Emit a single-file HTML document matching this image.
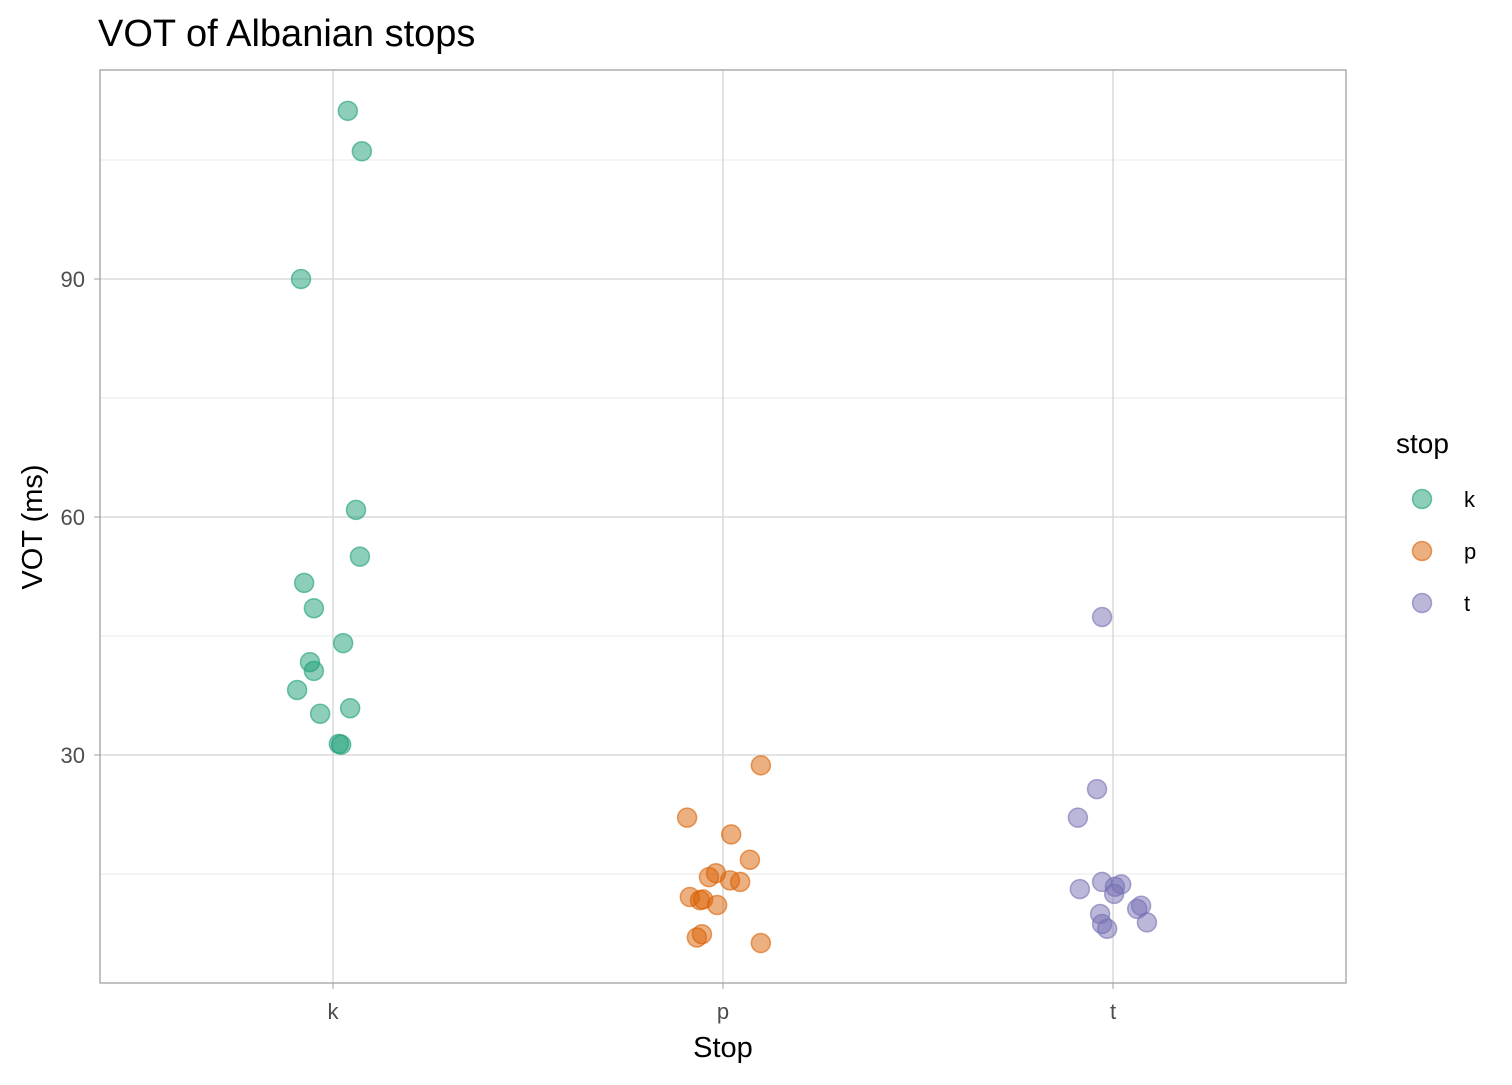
<!DOCTYPE html>
<html><head><meta charset="utf-8"><style>
body{margin:0;background:#fff;font-family:"Liberation Sans",Arial,sans-serif}
</style></head><body>
<svg id="chart" width="1512" height="1080" xmlns="http://www.w3.org/2000/svg"></svg>
<script>
const categories=["k","p","t"];
const colors=["#1b9e77","#d95f02","#7570b3"];
const kValues=[111.2,106.1,90,60.9,55.0,51.7,48.5,44.1,41.7,40.6,38.2,35.9,35.2,31.4,31.3];
const kJitter=[0.038,0.074,-0.082,0.059,0.069,-0.074,-0.049,0.026,-0.059,-0.049,-0.092,0.044,-0.033,0.015,0.021];
const pValues=[28.7,22.1,20.0,16.8,15.1,14.6,14.2,14.0,12.1,11.8,11.7,11.1,7.4,7.0,6.3];
const pJitter=[0.097,-0.092,0.021,0.069,-0.018,-0.036,0.018,0.044,-0.085,-0.051,-0.059,-0.015,-0.054,-0.067,0.097];
const tValues=[47.4,25.7,22.1,14.0,13.7,13.1,13.4,12.5,11.0,10.6,9.96,8.7,8.9,8.1];
const tJitter=[-0.028,-0.041,-0.090,-0.028,0.021,-0.085,0.005,0.003,0.072,0.062,-0.033,-0.028,0.087,-0.015];
const yTicks=[30,60,90];
const yMinor=[15,45,75,105];
const series=[kValues,pValues,tValues];
const jitters=[kJitter,pJitter,tJitter];

const svg=document.getElementById('chart');
const NS="http://www.w3.org/2000/svg";
const L=100,R=1346,T=70,B=983;
const xs=c=>333+c*390;
const ys=v=>279-(v-90)*(238/30);
function el(t,a,p){const e=document.createElementNS(NS,t);for(const k in a)e.setAttribute(k,a[k]);(p||svg).appendChild(e);return e;}

const grid=el('g',{});


yMinor.forEach(v=>el('line',{x1:L,x2:R,y1:ys(v),y2:ys(v),stroke:'#e8e8e8','stroke-width':1},grid));
yTicks.forEach(v=>el('line',{x1:L,x2:R,y1:ys(v),y2:ys(v),stroke:'#d4d4d4','stroke-width':1.3},grid));
categories.forEach((c,i)=>el('line',{x1:xs(i),x2:xs(i),y1:T,y2:B,stroke:'#d4d4d4','stroke-width':1.3},grid));
const frame=el('rect',{x:L,y:T,width:R-L,height:B-T,fill:'none',stroke:'#a0a0a0','stroke-width':1.3});



yTicks.forEach(v=>{
 const t=el('text',{x:85,y:ys(v)+8,'text-anchor':'end','font-size':22,fill:'#4d4d4d'});t.textContent=v;
 
 
 el('line',{x1:94,x2:100,y1:ys(v),y2:ys(v),stroke:'#a0a0a0'});
});
categories.forEach((c,i)=>{
 const t=el('text',{x:xs(i),y:1019,'text-anchor':'middle','font-size':22,fill:'#4d4d4d'});t.textContent=c;
 
 
 el('line',{x1:xs(i),x2:xs(i),y1:983,y2:989,stroke:'#a0a0a0'});
});

series.forEach((vals,ci)=>{
 const g=el('g',{});
 
 
 vals.forEach((v,j)=>{
  const c=el('circle',{cx:xs(ci+jitters[ci][j]),cy:ys(v),r:9.5,fill:colors[ci],'fill-opacity':0.5,stroke:colors[ci],'stroke-opacity':0.6,'stroke-width':1.5},g);
  
  
 });
});

const title=el('text',{x:98,y:46,'font-size':38,fill:'#000'});title.textContent='VOT of Albanian stops';


const xt=el('text',{x:723,y:1057,'text-anchor':'middle','font-size':29,fill:'#000'});xt.textContent='Stop';


const yt=el('text',{x:0,y:0,'text-anchor':'middle','font-size':29,fill:'#000',transform:'translate(42,527) rotate(-90)'});yt.textContent='VOT (ms)';



const leg=el('g',{});


const lt=el('text',{x:1396,y:453,'font-size':28,fill:'#000'},leg);lt.textContent='stop';
categories.forEach((c,i)=>{
 const y=499+i*52;
 const e=el('circle',{cx:1422,cy:y,r:9.5,fill:colors[i],'fill-opacity':0.5,stroke:colors[i],'stroke-opacity':0.6,'stroke-width':1.5},leg);
 
 
 const t=el('text',{x:1464,y:y+8,'font-size':22,fill:'#000'},leg);t.textContent=c;
 
 
});
</script>
</body></html>
